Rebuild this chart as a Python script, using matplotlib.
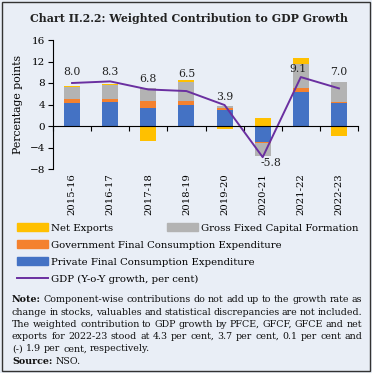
import numpy as np
import matplotlib
matplotlib.use("Agg")
import matplotlib.pyplot as plt
from matplotlib.patches import Rectangle, Patch
from matplotlib.lines import Line2D

plt.rcParams["font.family"] = ["DejaVu Serif"]

# data
years = ["2015-16", "2016-17", "2017-18", "2018-19", "2019-20", "2020-21", "2021-22", "2022-23"]
pfce = [4.3, 4.5, 3.4, 3.9, 2.9, -3.0, 6.4, 4.3]
gfce = [0.7, 0.6, 1.2, 0.7, 0.4, -0.1, 0.7, 0.1]
gfcf = [2.2, 2.6, 2.4, 3.5, 0.4, -2.4, 4.5, 3.7]
net_exports = [0.2, 0.2, -2.8, 0.4, -0.5, 1.4, 1.0, -1.9]
gdp = [8.0, 8.3, 6.8, 6.5, 3.9, -5.8, 9.1, 7.0]

bg = "#E9EEF6"
c_blue = "#4472C4"
c_orange = "#F4812E"
c_gray = "#B3B3B3"
c_yellow = "#FFC000"
c_purple = "#6A2FA0"

W, H = 372, 373
fig = plt.figure(figsize=(W / 100, H / 100), dpi=100, facecolor=bg)
ax = fig.add_axes([53 / W, 1 - 169 / H, 305 / W, 129 / H])
ax.set_facecolor("none")

x = np.arange(len(years))
pos_base = np.zeros(len(years))
neg_base = np.zeros(len(years))
for vals, col in [(pfce, c_blue), (gfce, c_orange), (gfcf, c_gray), (net_exports, c_yellow)]:
    v = np.array(vals)
    bottoms = np.where(v >= 0, pos_base, neg_base)
    ax.bar(x, v, 0.42, bottom=bottoms, color=col, zorder=2)
    pos_base += np.where(v >= 0, v, 0)
    neg_base += np.where(v < 0, v, 0)

ax.plot(x, gdp, color=c_purple, lw=1.4, zorder=3)

# label offsets in points (dx, dy)
offs = [(0, 8), (0, 7), (0, 7.5), (0, 12.5), (0, 6), (6, -4.5), (-2, 5.5), (0, 12)]
for xi, g, (dx, dy) in zip(x, gdp, offs):
    ax.annotate(f"{g:.1f}", (xi, g), xytext=(dx, dy), textcoords="offset points",
                ha="center", va="center", fontsize=7.8, color="#222222", zorder=4)

ax.set_xlim(-0.5, len(years) - 0.5)
ax.set_ylim(-8, 16)
ax.set_yticks(range(-8, 17, 4))
ax.tick_params(axis="y", labelsize=7.5, length=3.5, width=0.8, pad=2)

# x axis line at zero with boundary ticks, labels at the bottom
ax.spines["right"].set_visible(False)
ax.spines["bottom"].set_visible(False)
ax.spines["top"].set_position(("data", 0))
ax.spines["top"].set_zorder(5)
ax.set_xticks(x)
ax.set_xticklabels(years, rotation=90, fontsize=7.2)
ax.set_xticks(np.arange(-0.5, len(years), 1), minor=True)
ax.tick_params(axis="x", which="major", length=0, pad=3, top=False, bottom=True)
ax.tick_params(axis="x", which="minor", top=True, bottom=False, direction="in",
               length=3.5, width=0.8)
for s in ["left", "top"]:
    ax.spines[s].set_linewidth(0.8)

ax.set_ylabel("Percentage points", fontsize=7.8)
ax.yaxis.set_label_coords(-0.1, 0.5)

# title
fig.text(30 / W, 1 - 18 / H, "Chart II.2.2: Weighted Contribution to GDP Growth",
         fontsize=7.9, fontweight="bold", ha="left", va="center", color="#222222")

# legend, one entry per box so they sit like the original
leg_kw = dict(frameon=False, fontsize=7.3, handlelength=3.1, handleheight=0.7,
              handletextpad=0.25, borderpad=0, borderaxespad=0, loc="center left")
entries = [
    (Patch(color=c_yellow), "Net Exports", 17, 228),
    (Patch(color=c_gray), "Gross Fixed Capital Formation", 167, 228),
    (Patch(color=c_orange), "Government Final Consumption Expenditure", 17, 245),
    (Patch(color=c_blue), "Private Final Consumption Expenditure", 17, 262),
    (Line2D([], [], color=c_purple, lw=1.4), "GDP (Y-o-Y growth, per cent)", 17, 279),
]
for h, lab, lx, ly in entries:
    fig.legend([h], [lab], bbox_to_anchor=(lx / W, 1 - ly / H), **leg_kw)

# note, justified like a printed paragraph
note_lines = [
    [("Note:", "bold"), ("Component-wise contributions do not add up to the growth rate as", "normal")],
    [("change in stocks, valuables and statistical discrepancies are not included.", "normal")],
    [("The weighted contribution to GDP growth by PFCE, GFCF, GFCE and net", "normal")],
    [("exports for 2022-23 stood at 4.3 per cent, 3.7 per cent, 0.1 per cent and", "normal")],
    [("(-) 1.9 per cent, respectively.", "normal")],
    [("Source:", "bold"), ("NSO.", "normal")],
]
justified = [True, True, True, True, False, False]
renderer = fig.canvas.get_renderer()
x0, x1 = 12, 362
for i, (segs, just) in enumerate(zip(note_lines, justified)):
    y = 300 + i * 12.2
    words = []
    for txt, wt in segs:
        for wd in txt.split(" "):
            t = fig.text(0, 0, wd, fontsize=6.85, fontweight=wt, va="center",
                         ha="left", color="#111111")
            words.append((t, t.get_window_extent(renderer).width))
    total = sum(w for _, w in words)
    if just and len(words) > 1:
        gap = (x1 - x0 - total) / (len(words) - 1)
    else:
        gap = 3.0
    cx = x0
    for t, w in words:
        t.set_position((cx / W, 1 - y / H))
        cx += w + gap

fig.add_artist(Rectangle((2 / W, 2 / H), 368 / W, 369 / H, transform=fig.transFigure,
                         fill=False, edgecolor="#333333", lw=1))

fig.savefig("out.png", dpi=100, facecolor=bg)
